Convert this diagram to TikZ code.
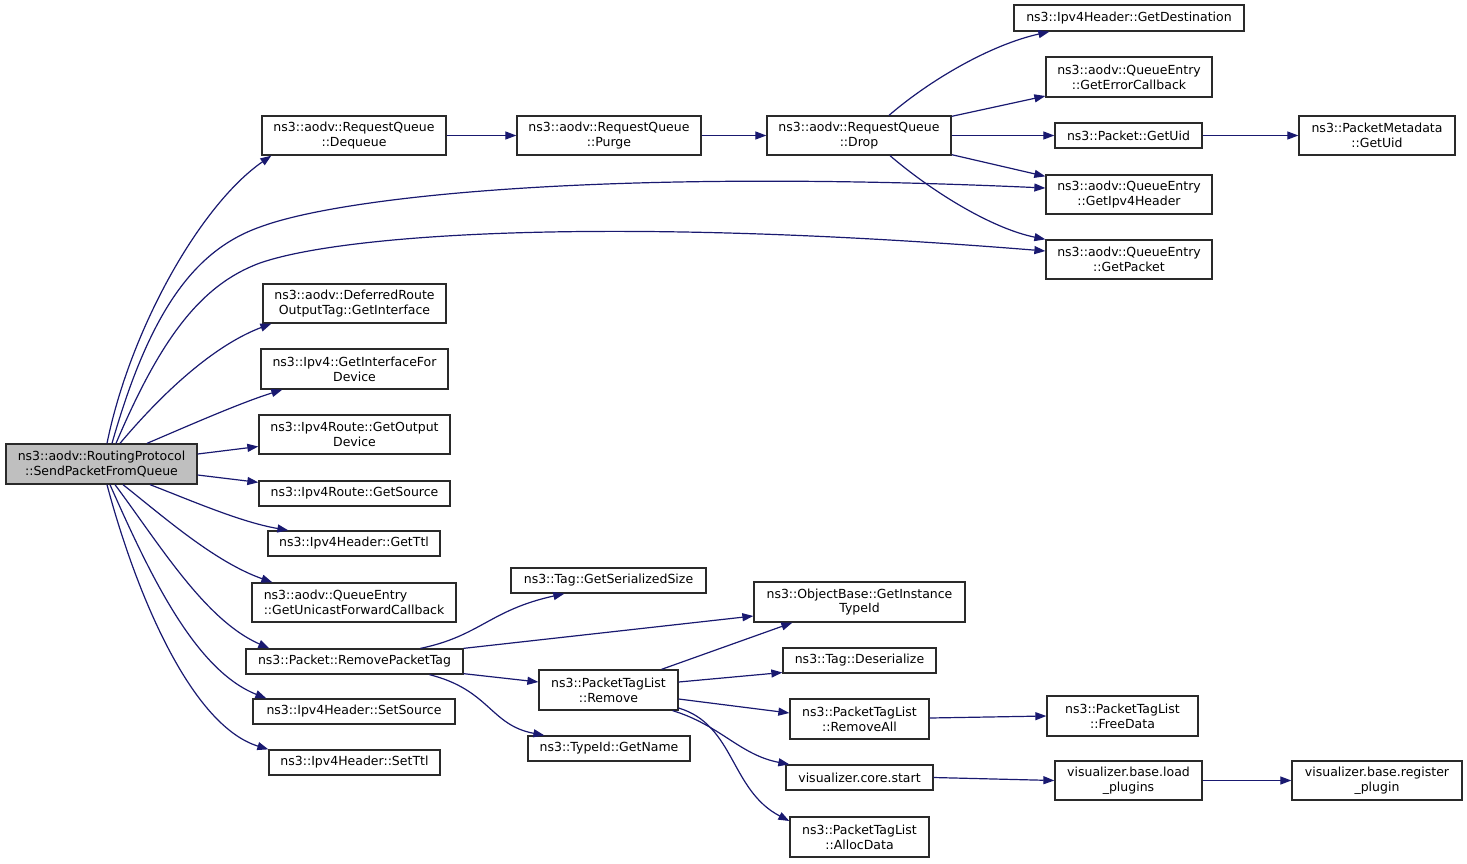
\documentclass[tikz,border=0pt]{standalone}
\usepackage{fontspec}
\setmainfont{DejaVu Sans}
\usetikzlibrary{calc,arrows.meta}
\definecolor{edgec}{HTML}{191970}
\definecolor{boxc}{HTML}{2A2A2A}
\definecolor{mainfill}{HTML}{BFBFBF}
\begin{document}
\begin{tikzpicture}[x=1pt,y=-1pt,
  box/.style={draw=boxc, line width=1.3pt, inner sep=0pt, align=center, rectangle,
              font=\fontsize{12.5}{14.7}\selectfont},
  edge/.style={draw=edgec, line width=1.2pt, -{Triangle[length=11pt,width=8pt]}}]
\useasboundingbox (0,0) rectangle (1467,863);

% nodes
\node[box, fill=mainfill, minimum width=191pt, minimum height=40pt] (main) at (101.5,464) {ns3::aodv::RoutingProtocol\\::SendPacketFromQueue};
\node[box, minimum width=184pt, minimum height=39pt] (deq) at (354,135.5) {ns3::aodv::RequestQueue\\::Dequeue};
\node[box, minimum width=184pt, minimum height=39pt] (purge) at (609,135.5) {ns3::aodv::RequestQueue\\::Purge};
\node[box, minimum width=184pt, minimum height=39pt] (drop) at (859,135.5) {ns3::aodv::RequestQueue\\::Drop};
\node[box, minimum width=230pt, minimum height=26pt] (gdest) at (1129,18) {ns3::Ipv4Header::GetDestination};
\node[box, minimum width=166pt, minimum height=40pt] (gerr) at (1129,77) {ns3::aodv::QueueEntry\\::GetErrorCallback};
\node[box, minimum width=147pt, minimum height=25pt] (puid) at (1128.5,135.5) {ns3::Packet::GetUid};
\node[box, minimum width=156pt, minimum height=39pt] (pmuid) at (1377,135.5) {ns3::PacketMetadata\\::GetUid};
\node[box, minimum width=166pt, minimum height=39pt] (gih) at (1129,194.5) {ns3::aodv::QueueEntry\\::GetIpv4Header};
\node[box, minimum width=166pt, minimum height=39pt] (gpk) at (1129,259.5) {ns3::aodv::QueueEntry\\::GetPacket};
\node[box, minimum width=183pt, minimum height=39pt] (defr) at (354.5,303.5) {ns3::aodv::DeferredRoute\\OutputTag::GetInterface};
\node[box, minimum width=187pt, minimum height=40pt] (gifd) at (354.5,369) {ns3::Ipv4::GetInterfaceFor\\Device};
\node[box, minimum width=191pt, minimum height=39pt] (god) at (354.5,434.5) {ns3::Ipv4Route::GetOutput\\Device};
\node[box, minimum width=191pt, minimum height=25pt] (gsrc) at (354.5,493.5) {ns3::Ipv4Route::GetSource};
\node[box, minimum width=172pt, minimum height=25pt] (gttl) at (354,543.5) {ns3::Ipv4Header::GetTtl};
\node[box, align=left, minimum width=204pt, minimum height=39pt] (gufc) at (354,602.5) {ns3::aodv::QueueEntry\\::GetUnicastForwardCallback};
\node[box, minimum width=217pt, minimum height=25pt] (rpt) at (354.5,661.5) {ns3::Packet::RemovePacketTag};
\node[box, minimum width=202pt, minimum height=25pt] (ssrc) at (354,711.5) {ns3::Ipv4Header::SetSource};
\node[box, minimum width=171pt, minimum height=25pt] (sttl) at (354.5,762.5) {ns3::Ipv4Header::SetTtl};
\node[box, minimum width=195pt, minimum height=25pt] (tgss) at (608.5,580.5) {ns3::Tag::GetSerializedSize};
\node[box, minimum width=162pt, minimum height=25pt] (tgn) at (609,748.5) {ns3::TypeId::GetName};
\node[box, minimum width=139pt, minimum height=40pt] (ptlr) at (608.5,690) {ns3::PacketTagList\\::Remove};
\node[box, minimum width=211pt, minimum height=40pt] (obgi) at (859.5,602) {ns3::ObjectBase::GetInstance\\TypeId};
\node[box, minimum width=153pt, minimum height=25pt] (tdes) at (859.5,660.5) {ns3::Tag::Deserialize};
\node[box, minimum width=139pt, minimum height=40pt] (ptlra) at (859.5,719) {ns3::PacketTagList\\::RemoveAll};
\node[box, minimum width=147pt, minimum height=25pt] (vcs) at (859.5,777.5) {visualizer.core.start};
\node[box, minimum width=139pt, minimum height=40pt] (ptlad) at (859.5,837) {ns3::PacketTagList\\::AllocData};
\node[box, minimum width=151pt, minimum height=40pt] (ptlfd) at (1122.5,716) {ns3::PacketTagList\\::FreeData};
\node[box, minimum width=147pt, minimum height=39pt] (vbl) at (1128.5,780.5) {visualizer.base.load\\\_plugins};
\node[box, minimum width=170pt, minimum height=39pt] (vbr) at (1377,780.5) {visualizer.base.register\\\_plugin};

% edges from main
\draw[edge] ($(main.north)+(5.5,0)$) .. controls (130,330) and (200,205) .. ($(deq.south west)+(10,0)$);
\draw[edge] ($(main.north)+(10.5,0)$) .. controls (150,310) and (195,250) .. (260,227) .. controls (340,197) and (600,168) .. ($(gih.west)+(0,-6.5)$);
\draw[edge] ($(main.north)+(14.5,0)$) .. controls (160,340) and (200,285) .. (260,263) .. controls (340,235) and (600,215) .. ($(gpk.west)+(0,-8.5)$);
\draw[edge] ($(main.north)+(18.5,0)$) .. controls (165,390) and (215,345) .. ($(defr.south west)+(9,0)$);
\draw[edge] ($(main.north)+(45.5,0)$) .. controls (190,425) and (240,403) .. ($(gifd.south west)+(22,0)$);
\draw[edge] ($(main.east)+(0,-10)$) -- ($(god.west)+(0,12)$);
\draw[edge] ($(main.east)+(0,11)$) -- ($(gsrc.north west)+(0,2)$);
\draw[edge] ($(main.south)+(48.5,0)$) .. controls (190,500) and (240,522) .. ($(gttl.north west)+(21,0)$);
\draw[edge] ($(main.south)+(21.5,0)$) .. controls (165,518) and (215,562) .. ($(gufc.north west)+(21,0)$);
\draw[edge] ($(main.south)+(13.5,0)$) .. controls (160,545) and (205,620) .. ($(rpt.north west)+(24,0)$);
\draw[edge] ($(main.south)+(8.5,0)$) .. controls (150,575) and (195,670) .. ($(ssrc.north west)+(14,0)$);
\draw[edge] ($(main.south)+(5.5,0)$) .. controls (135,590) and (190,725) .. (sttl.north west);

% request queue chain
\draw[edge] (deq.east) -- (purge.west);
\draw[edge] (purge.east) -- (drop.west);
\draw[edge] ($(drop.north)+(30,0)$) .. controls (930,80) and (990,45) .. ($(gdest.south west)+(36,0)$);
\draw[edge] ($(drop.north east)+(0,1)$) -- ($(gerr.west)+(0,19)$);
\draw[edge] (drop.east) -- (puid.west);
\draw[edge] ($(drop.south east)+(0,-1)$) -- ($(gih.north west)+(0,2)$);
\draw[edge] ($(drop.south)+(31,0)$) .. controls (930,190) and (990,228) .. (gpk.north west);
\draw[edge] (puid.east) -- (pmuid.west);

% remove packet tag
\draw[edge] ($(rpt.north)+(66,0)$) .. controls (480,636) and (490,610) .. ($(tgss.south west)+(54,0)$);
\draw[edge] (rpt.north east) -- ($(obgi.west)+(0,14)$);
\draw[edge] ($(rpt.south east)+(0,-1)$) -- ($(ptlr.west)+(0,-8)$);
\draw[edge] ($(rpt.south)+(75,0)$) .. controls (490,690) and (490,725) .. ($(tgn.north west)+(17,0)$);

% packet tag list remove
\draw[edge] ($(ptlr.north)+(53,0)$) -- ($(obgi.south west)+(39,0)$);
\draw[edge] ($(ptlr.east)+(0,-8)$) -- ($(tdes.west)+(0,12)$);
\draw[edge] ($(ptlr.east)+(0,9)$) -- ($(ptlra.west)+(0,-6)$);
\draw[edge] ($(ptlr.south east)+(-6,0)$) .. controls (720,725) and (740,755) .. ($(vcs.north west)+(4,0)$);
\draw[edge] ($(ptlr.east)+(0,18)$) .. controls (735,725) and (730,790) .. ($(ptlad.west)+(0,-16)$);

\draw[edge] ($(ptlra.east)+(0,-1)$) -- (ptlfd.west);
\draw[edge] (vcs.east) -- (vbl.west);
\draw[edge] (vbl.east) -- (vbr.west);
\end{tikzpicture}
\end{document}
